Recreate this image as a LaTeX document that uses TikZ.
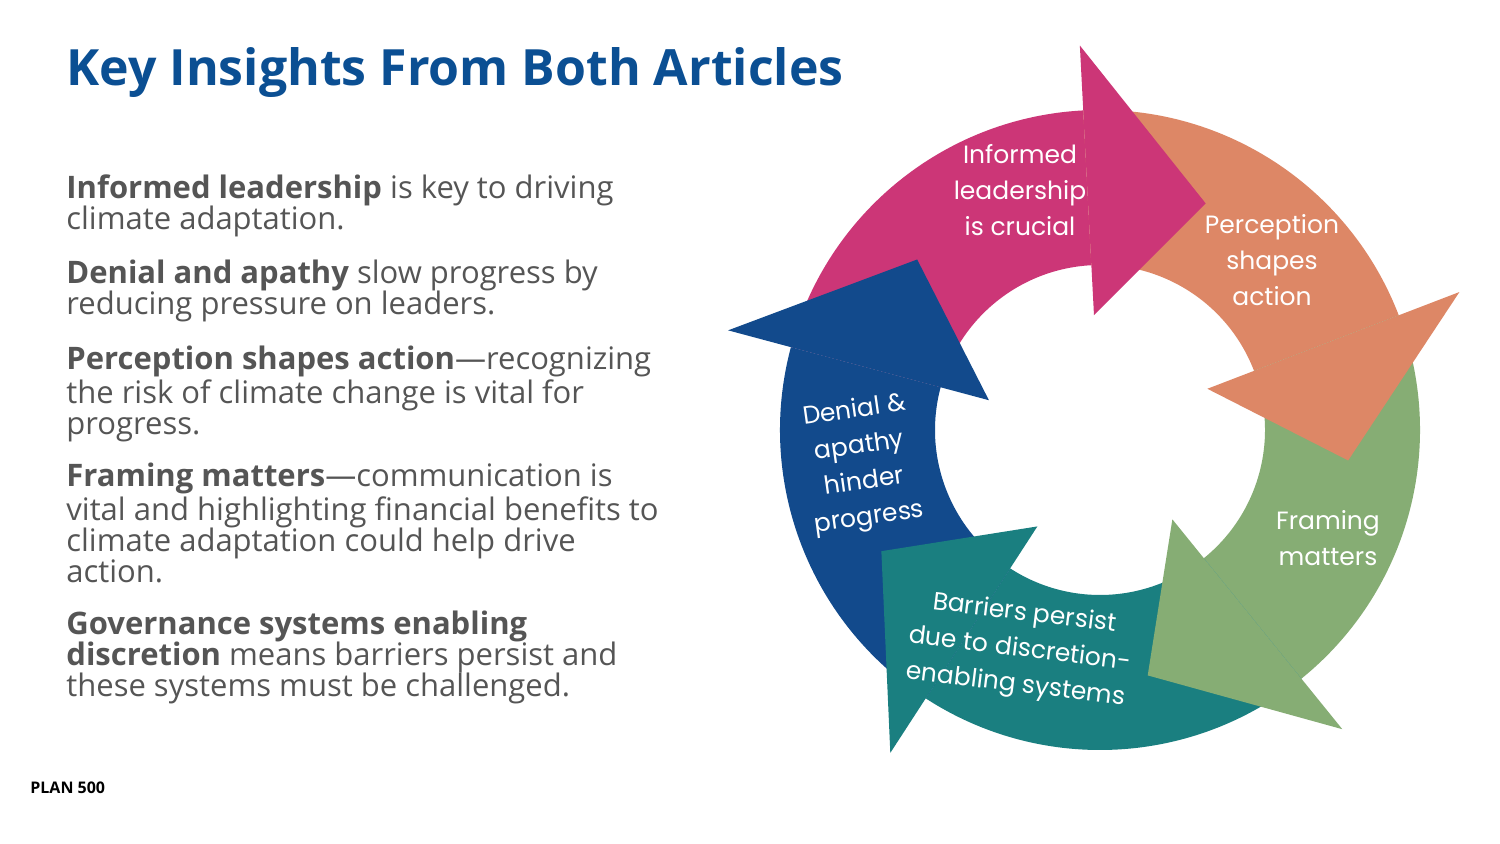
\documentclass[tikz,border=0pt]{standalone}
\usepackage{fontspec}
\setmainfont{Open Sans}
\newfontfamily\dg{Poppins}
\usetikzlibrary{calc}
\definecolor{ttl}{HTML}{0B4F93}
\definecolor{txt}{HTML}{555555}
\definecolor{cpink}{HTML}{CC3677}
\definecolor{corange}{HTML}{DD8766}
\definecolor{cgreen}{HTML}{86AD74}
\definecolor{cteal}{HTML}{1A7F80}
\definecolor{cblue}{HTML}{124A8C}
\begin{document}
\begin{tikzpicture}[x=0.5pt,y=0.5pt,
  para/.style={anchor=north west,align=left,inner sep=0pt,text=txt,font=\fontsize{15.5}{15.5}\selectfont},
  lab/.style={text=white,align=center,font=\dg\fontsize{12.5}{18}\selectfont}]
\useasboundingbox (0,0) rectangle (1500,844);
\fill[white] (0,0) rectangle (1500,844);
\node[anchor=base west,inner sep=0pt,text=ttl,font=\bfseries\fontsize{25}{30}\selectfont] (title) at (66,758) {Key Insights From Both Articles};
\node[para] (p1) at (66,670) {\textbf{Informed leadership} is key to driving\\climate adaptation.};
\node[para] (p2) at (66,584) {\textbf{Denial and apathy} slow progress by\\reducing pressure on leaders.};
\node[para] (p3) at (66,498) {\textbf{Perception shapes action}—recognizing\\the risk of climate change is vital for\\progress.};
\node[para] (p4) at (66,381) {\textbf{Framing matters}—communication is\\vital and highlighting financial benefits to\\climate adaptation could help drive\\action.};
\node[para] (p5) at (66,233) {\textbf{Governance systems enabling}\\\textbf{discretion} means barriers persist and\\these systems must be challenged.};
\node[anchor=base west,inner sep=0pt,font=\bfseries\fontsize{8}{8}\selectfont] (plan) at (30,50) {PLAN 500};
\coordinate (c) at (1100,414);
% bodies
\foreach \a/\b/\col in {165/93/cpink,93/21/corange,21/-51/cgreen,-51/-123/cteal,-123/-195/cblue}{
  \fill[\col] ($(c)+(\a:160pt)$) arc[start angle=\a,end angle=\b,radius=160pt]
     -- ($(c)+(\b:82.5pt)$) arc[start angle=\b,end angle=\a,radius=82.5pt] -- cycle;
}
% heads
\foreach \b/\col in {93/cpink,21/corange,-51/cgreen,-123/cteal,-195/cblue}{
  \pgfmathsetmacro\t{\b-28}
  \fill[\col] ($(c)+(\b:192.5pt)$) -- ($(c)+(\t:125pt)$) -- ($(c)+(\b:57.5pt)$) -- cycle;
}
\node[lab] (l1) at (1020,654) {Informed\\leadership\\is crucial};
\node[lab] (l2) at (1272,584) {Perception\\shapes\\action};
\node[lab] (l3) at (1328,306) {Framing\\matters};
\node[lab,rotate=-7] (l4) at (1020,194) {Barriers persist\\due to discretion-\\enabling systems};
\node[lab,rotate=8] (l5) at (862,379) {Denial \&\\apathy\\hinder\\progress};
\end{tikzpicture}
\end{document}
